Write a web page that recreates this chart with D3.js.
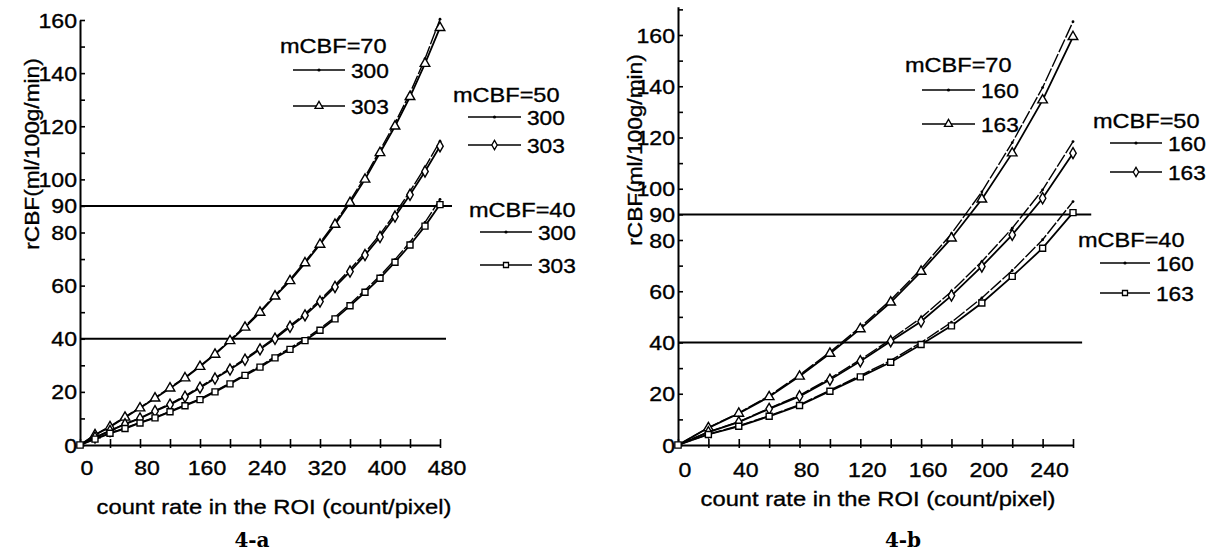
<!DOCTYPE html>
<html>
<head>
<meta charset="utf-8">
<script src="https://cdn.jsdelivr.net/npm/d3@7"></script>
<style>
  body { margin: 0; background: #fff; }
  text { font-family: "Liberation Sans", Arial, sans-serif; fill: #000; stroke: #000; stroke-width: 0.35px; }
</style>
</head>
<body>
<script>
// ---- 4-a data (count rate step 20) ----
var countA = [0, 20, 40, 60, 80, 100, 120, 140, 160, 180, 200, 220, 240, 260, 280, 300, 320, 340, 360, 380, 400, 420, 440, 460, 480];
var a70_300 = [0, 3.9, 7.0, 10.6, 14.1, 17.8, 21.6, 25.5, 29.8, 34.4, 39.5, 44.7, 50.3, 56.4, 62.3, 69.0, 76.1, 83.7, 92.0, 100.9, 111.0, 121.2, 132.5, 145.4, 160.3];
var a70_303 = [0, 3.8, 6.8, 10.4, 13.9, 17.6, 21.4, 25.2, 29.5, 34.1, 39.2, 44.3, 49.9, 56.0, 61.8, 68.5, 75.5, 83.0, 91.2, 100.0, 110.0, 120.0, 131.1, 143.6, 157.1];
var a50_300 = [0, 2.9, 5.4, 8.0, 10.2, 12.9, 15.5, 18.5, 21.9, 25.3, 28.8, 32.5, 36.4, 40.5, 45.0, 49.4, 54.6, 60.2, 66.1, 72.4, 79.3, 87.1, 95.5, 104.5, 114.4];
var a50_303 = [0, 2.8, 5.3, 7.8, 10.0, 12.7, 15.2, 18.2, 21.6, 25.0, 28.4, 32.1, 36.0, 40.0, 44.5, 48.8, 54.0, 59.5, 65.3, 71.5, 78.3, 86.0, 94.2, 103.0, 112.5];
var a40_300 = [0, 2.3, 4.5, 6.4, 8.5, 10.4, 12.7, 15.1, 17.4, 20.3, 23.3, 26.6, 29.7, 33.3, 36.5, 39.9, 43.8, 48.2, 53.1, 58.3, 63.7, 69.8, 76.4, 83.8, 92.5];
var a40_303 = [0, 2.2, 4.4, 6.2, 8.3, 10.2, 12.5, 14.8, 17.1, 20.0, 23.0, 26.2, 29.3, 32.8, 36.0, 39.3, 43.2, 47.5, 52.4, 57.5, 62.8, 68.8, 75.3, 82.4, 90.5];

// ---- 4-b data ----
var countB = [0, 20, 40, 60, 80, 100, 120, 140, 160, 180, 200, 220, 240, 260];
var b70_160 = [0, 6.8, 12.5, 19.2, 27.3, 36.3, 46.0, 56.6, 68.7, 82.5, 98.8, 118.0, 139.5, 165.2];
var b70_163 = [0, 6.7, 12.3, 18.8, 26.8, 35.7, 45.3, 55.7, 67.7, 80.7, 95.9, 113.9, 134.6, 159.3];
var b50_160 = [0, 5.1, 9.1, 14.3, 19.4, 26.0, 33.3, 41.2, 49.6, 59.9, 71.6, 84.6, 99.6, 118.4];
var b50_163 = [0, 5.0, 8.9, 14.1, 19.0, 25.5, 32.7, 40.5, 48.2, 58.3, 69.7, 82.0, 96.3, 113.9];
var b40_160 = [0, 4.2, 7.5, 11.4, 15.7, 21.4, 27.1, 33.0, 40.0, 47.9, 57.4, 68.1, 80.1, 95.0];
var b40_163 = [0, 4.1, 7.3, 11.2, 15.4, 21.0, 26.6, 32.3, 39.2, 46.5, 55.4, 65.8, 76.8, 90.7];

// ticks / labels
var yLabels = [0, 20, 40, 60, 80, 90, 100, 120, 140, 160];
var xLabelsA = [0, 80, 160, 240, 320, 400, 480];
var xLabelsB = [0, 40, 80, 120, 160, 200, 240];
var refLines = [40, 90];
var yTitle = "rCBF(ml/100g/min)";
var xTitle = "count rate in the ROI (count/pixel)";

var svg = d3.select("body").append("svg").attr("width", 1217).attr("height", 554);

// the printed font is a bit wider than Arial
function stretch(sel, k) {
  sel.each(function () {
    var w = this.getComputedTextLength();
    d3.select(this).attr("textLength", w * k).attr("lengthAdjust", "spacingAndGlyphs");
  });
}

function symbolPath(type, size) {
  return d3.symbol().type(type).size(size)();
}

function panel(p) {
  var g = svg.append("g");
  var x = d3.scaleLinear().domain([0, p.xMax]).range([p.x0, p.x1]);
  var y = d3.scaleLinear().domain([0, 160]).range([445, p.y160]);

  // reference lines
  g.selectAll("line.ref")
    .data(refLines)
    .enter().append("line")
    .attr("class", "ref")
    .attr("x1", x(0))
    .attr("x2", function (d, i) { return x(p.refEnd[i]); })
    .attr("y1", function (d) { return y(d); })
    .attr("y2", function (d) { return y(d); })
    .attr("stroke", "#000").attr("stroke-width", 2);

  // y axis (minor ticks every 10)
  var yAxisScale = y.copy().domain([0, p.yTop]).range([y(0), y(p.yTop)]);
  var yAx = g.append("g").attr("transform", "translate(" + x(0) + ",0)")
    .call(d3.axisLeft(yAxisScale).tickValues(d3.range(0, p.yTop + 1, 10)).tickSize(-5).tickSizeOuter(0).tickFormat(""));
  yAx.select(".domain").attr("stroke-width", 2);
  yAx.selectAll(".tick line").attr("stroke-width", 1.6);

  // x axis
  var xAx = g.append("g").attr("transform", "translate(0," + y(0) + ")")
    .call(d3.axisBottom(x).tickValues(d3.range(0, p.xMax + 1, p.xStep)).tickSize(-6).tickSizeOuter(0).tickFormat(""));
  xAx.select(".domain").attr("stroke-width", 2);
  xAx.selectAll(".tick line").attr("y1", 3).attr("stroke-width", 1.6);

  // tick labels
  g.selectAll("text.yl")
    .data(yLabels)
    .enter().append("text")
    .attr("class", "yl")
    .attr("x", x(0) - 3)
    .attr("y", function (d) { return y(d); })
    .attr("dy", "0.36em")
    .attr("text-anchor", "end")
    .attr("font-size", 21)
    .text(function (d) { return d; })
    .call(stretch, 1.1);

  g.selectAll("text.xl")
    .data(p.xLabels)
    .enter().append("text")
    .attr("class", "xl")
    .attr("x", function (d) { return x(d) + 7; })
    .attr("y", p.xLabY)
    .attr("text-anchor", "middle")
    .attr("font-size", 21)
    .text(function (d) { return d; })
    .call(stretch, 1.1);

  // titles
  g.append("text")
    .attr("transform", "translate(" + p.yTitleX + "," + p.yTitleY + ") rotate(-90)")
    .attr("text-anchor", "middle")
    .attr("font-size", 21)
    .text(yTitle)
    .call(stretch, 1.08);

  g.append("text")
    .attr("x", p.xTitleX).attr("y", p.xTitleY)
    .attr("text-anchor", "middle")
    .attr("font-size", 21)
    .text(xTitle)
    .call(stretch, 1.13);

  g.append("text")
    .attr("x", p.capX).attr("y", 547)
    .attr("text-anchor", "middle")
    .attr("font-size", 20)
    .attr("font-weight", "bold")
    .style("font-family", "'DejaVu Serif', 'Liberation Serif', serif")
    .style("stroke-width", 0)
    .text(p.caption);

  // curves
  var line = d3.line()
    .x(function (d) { return x(d[0]); })
    .y(function (d) { return y(d[1]); });

  p.series.forEach(function (s) {
    var pts = p.counts.map(function (c, i) { return [c, s.vals[i]]; });
    g.append("path")
      .attr("d", line(pts))
      .attr("fill", "none")
      .attr("stroke", "#000")
      .attr("stroke-width", s.sym ? 1.8 : 1.4)
      .attr("stroke-dasharray", s.sym ? null : "14,2");
    if (s.sym) {
      g.selectAll(null)
        .data(pts.slice(1))
        .enter().append("path")
        .attr("transform", function (d) { return "translate(" + x(d[0]) + "," + y(d[1]) + ")"; })
        .attr("d", symbolPath(s.sym, s.size))
        .attr("fill", "#fff").attr("stroke", "#000").attr("stroke-width", 1.4);
    } else {
      g.selectAll(null)
        .data(pts.slice(1))
        .enter().append("circle")
        .attr("cx", function (d) { return x(d[0]); })
        .attr("cy", function (d) { return y(d[1]); })
        .attr("r", 1.4)
        .attr("fill", "#000");
    }
  });
  // start point square
  g.append("path")
    .attr("transform", "translate(" + x(0) + "," + y(0) + ")")
    .attr("d", symbolPath(d3.symbolSquare, 40))
    .attr("fill", "#fff").attr("stroke", "#000").attr("stroke-width", 1.3);

  // legends
  p.legends.forEach(function (L) {
    var lg = g.append("g");
    lg.append("text").attr("x", L.tx).attr("y", L.ty).attr("font-size", 21)
      .text(L.title).call(stretch, 1.12);
    [L.r1, L.r2].forEach(function (ry, k) {
      var s = L.items[k];
      lg.append("line")
        .attr("x1", L.x1).attr("x2", L.x2).attr("y1", ry).attr("y2", ry)
        .attr("stroke", "#000").attr("stroke-width", 1.6);
      var mx = (L.x1 + L.x2) / 2;
      if (s.sym) {
        lg.append("path")
          .attr("transform", "translate(" + mx + "," + ry + ")")
          .attr("d", symbolPath(s.sym, s.size * 0.7))
          .attr("fill", "#fff").attr("stroke", "#000").attr("stroke-width", 1.3);
      } else {
        lg.append("circle").attr("cx", mx).attr("cy", ry).attr("r", 1.6).attr("fill", "#000");
      }
      lg.append("text").attr("x", L.x2 + 6).attr("y", ry + 8).attr("font-size", 21)
        .text(s.label).call(stretch, 1.08);
    });
  });
}

var tri = d3.symbolTriangle, dia = d3.symbolDiamond, sq = d3.symbolSquare;

panel({
  x0: 80, x1: 440, xMax: 480, xStep: 40, y160: 20, yTop: 160,
  counts: countA, xLabels: xLabelsA, xLabY: 475, refEnd: [488, 496],
  yTitleX: 39, yTitleY: 154, xTitleX: 274, xTitleY: 514, capX: 252, caption: "4-a",
  series: [
    { vals: a70_300 }, { vals: a70_303, sym: tri, size: 40 },
    { vals: a50_300 }, { vals: a50_303, sym: dia, size: 36 },
    { vals: a40_300 }, { vals: a40_303, sym: sq, size: 36 }
  ],
  legends: [
    { title: "mCBF=70", tx: 280, ty: 53, x1: 293, x2: 345, r1: 70, r2: 106,
      items: [{ label: "300" }, { label: "303", sym: tri, size: 40 }] },
    { title: "mCBF=50", tx: 453, ty: 102, x1: 468, x2: 521, r1: 117, r2: 145,
      items: [{ label: "300" }, { label: "303", sym: dia, size: 36 }] },
    { title: "mCBF=40", tx: 469, ty: 217, x1: 480, x2: 532, r1: 232, r2: 265,
      items: [{ label: "300" }, { label: "303", sym: sq, size: 36 }] }
  ]
});

panel({
  x0: 678, x1: 1073, xMax: 260, xStep: 20, y160: 35, yTop: 171,
  counts: countB, xLabels: xLabelsB, xLabY: 477, refEnd: [266, 272],
  yTitleX: 642, yTitleY: 150, xTitleX: 878, xTitleY: 506, capX: 903, caption: "4-b",
  series: [
    { vals: b70_160 }, { vals: b70_163, sym: tri, size: 40 },
    { vals: b50_160 }, { vals: b50_163, sym: dia, size: 36 },
    { vals: b40_160 }, { vals: b40_163, sym: sq, size: 36 }
  ],
  legends: [
    { title: "mCBF=70", tx: 905, ty: 72, x1: 922, x2: 975, r1: 90, r2: 124,
      items: [{ label: "160" }, { label: "163", sym: tri, size: 40 }] },
    { title: "mCBF=50", tx: 1093, ty: 128, x1: 1110, x2: 1162, r1: 143, r2: 172,
      items: [{ label: "160" }, { label: "163", sym: dia, size: 36 }] },
    { title: "mCBF=40", tx: 1078, ty: 247, x1: 1100, x2: 1150, r1: 263, r2: 293,
      items: [{ label: "160" }, { label: "163", sym: sq, size: 36 }] }
  ]
});
</script>
</body>
</html>
